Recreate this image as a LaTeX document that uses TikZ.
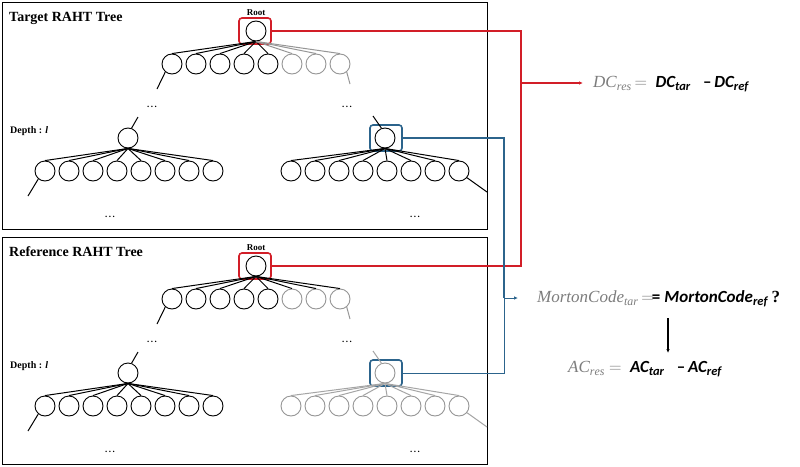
\documentclass[tikz,border=0pt]{standalone}
\usepackage{fontspec}
\setmainfont{Liberation Serif}
\newfontfamily\calib{Carlito}
\usetikzlibrary{arrows.meta}
\definecolor{redc}{RGB}{210,30,40}
\definecolor{bluec}{RGB}{44,100,140}
\definecolor{fgray}{RGB}{125,125,125}
\definecolor{ngray}{RGB}{150,150,150}
\definecolor{lgray}{RGB}{165,165,165}
\newcommand\gsub[2]{\textcolor{fgray}{$\mathit{#1}_{\mathit{#2}}$}}
\newcommand\bsub[2]{{\calib\bfseries\itshape #1\raisebox{-0.35ex}{\fontsize{12.5}{12.5}\selectfont #2}}}
\newcommand\mytree[6]{%
\begin{scope}[shift={(0,#2)}]
\node[frame, minimum width=485pt, minimum height=227pt, anchor=north west] (#1box) at (2,2) {};
\node[treetitle, anchor=base west] (#1title) at (9,21) {#3};
\node[rootlbl, anchor=base] (#1rootlbl) at (256,15) {Root};
\node[nd] (#1r) at (256,31) {};
\node[redbox] (#1rb) at (255,31) {};
\foreach \i/\s in {1/nd,2/nd,3/nd,4/nd,5/nd,6/gnd,7/gnd,8/gnd}{
  \node[\s] (#1c\i) at ({172+24*(\i-1)},64) {};
}
\foreach \i in {1,...,5} \draw[edge] (#1r.south) -- (#1c\i.north);
\foreach \i in {6,7,8} \draw[edge,#4] (#1r.south) -- (#1c\i.north);
\coordinate (#1ca) at (157,89);
\coordinate (#1cb) at (350,84);
\draw[edge] (#1c1.-130) -- (#1ca);
\draw[edge,ngray] (#1c8.-50) -- (#1cb);
\node[dots] (#1d1) at (152,107) {.\hspace{1.6pt}.\hspace{1.6pt}.};
\node[dots] (#1d2) at (347,107) {.\hspace{1.6pt}.\hspace{1.6pt}.};
\node[depthlbl, anchor=west] (#1depth) at (10,131) {Depth : \textit{l}};
% left subtree
\coordinate (#1La) at (138,117);
\node[nd] (#1L) at (128,138) {};
\draw[edge] (#1La) -- (#1L.70);
\foreach \i in {1,...,8}{
  \node[nd] (#1Lc\i) at ({45+24*(\i-1)},171) {};
  \draw[edge] (#1L.south) -- (#1Lc\i.north);
}
\coordinate (#1Lb) at (28,196);
\draw[edge] (#1Lc1.-130) -- (#1Lb);
% right subtree
\coordinate (#1Ra) at (373,116);
\node[#5] (#1R) at (385,138) {};
\node[bluebox] (#1Rb) at (386,138) {};
\draw[edge,#6] (#1Ra) -- (#1R.110);
\foreach \i in {1,...,8}{
  \node[#5] (#1Rc\i) at ({291+24*(\i-1)},171) {};
  \draw[edge,#6] (#1R.south) -- (#1Rc\i.north);
}
\coordinate (#1Rz) at (487,192);
\draw[edge,#6] (#1Rc8.-40) -- (#1Rz);
\node[dots] (#1d3) at (110,217) {.\hspace{1.6pt}.\hspace{1.6pt}.};
\node[dots] (#1d4) at (415,217) {.\hspace{1.6pt}.\hspace{1.6pt}.};
\end{scope}}
\begin{document}
\begin{tikzpicture}[x=1pt,y=-1pt,
  nd/.style={circle, draw, line width=0.9pt, minimum size=20pt, inner sep=0pt},
  gnd/.style={nd, draw=ngray},
  frame/.style={draw, line width=1.3pt, inner sep=0pt},
  treetitle/.style={font=\bfseries\fontsize{14}{16}\selectfont, inner sep=0pt},
  rootlbl/.style={font=\bfseries\fontsize{9}{10}\selectfont, inner sep=0pt},
  depthlbl/.style={font=\bfseries\fontsize{10}{12}\selectfont, inner sep=0pt},
  dots/.style={font=\bfseries\fontsize{9}{10}\selectfont, inner sep=0pt},
  redbox/.style={draw=redc, line width=1.6pt, rounded corners=3pt, minimum width=32pt, minimum height=26pt, inner sep=0pt},
  bluebox/.style={draw=bluec, line width=1.6pt, rounded corners=3pt, minimum width=32pt, minimum height=26pt, inner sep=0pt},
  edge/.style={line width=1pt},
  redthin/.style={draw=redc, line width=1.3pt},
  redthick/.style={draw=redc, line width=2.2pt},
  bluethin/.style={draw=bluec, line width=1pt},
  bluethick/.style={draw=bluec, line width=2pt},
  formula/.style={font=\fontsize{17}{19}\selectfont, inner sep=0pt, anchor=west},
  tip/.style={-{Latex[length=4pt,width=3.5pt]}}
]
\useasboundingbox (0,0) rectangle (800,466);
\fill[white] (0,0) rectangle (800,466);
\mytree{t}{0}{Target RAHT Tree}{ngray}{nd}{black}
\mytree{r}{235}{Reference RAHT Tree}{black}{gnd}{lgray}
% formulas
\node[formula] (dcf) at (593,84) {\gsub{DC}{res}\,\textcolor{fgray}{$=$}\ \ \bsub{DC}{tar}\ \ \ {\calib\bfseries –\,}\bsub{DC}{ref}};
\node[formula] (mcf) at (537,299) {\gsub{MortonCode}{tar}\,\textcolor{fgray}{$=$}\kern-2pt{\calib\bfseries =}\ \bsub{MortonCode}{ref}\ \textbf{?}};
\node[formula] (acf) at (568,369) {\gsub{AC}{res}\ \textcolor{fgray}{$=$}\ \ \bsub{AC}{tar}\ \ \ {\calib\bfseries –\,}\bsub{AC}{ref}};
% connectors
\coordinate (rj) at (521,105);
\coordinate (rs) at (521,83);
\draw[redthin] (trb.east) -| (rj);
\draw[redthick] (rrb.east) -| (rj);
\draw[redthin,tip,shorten >=10pt] (rs) -- (rs -| dcf.west);
\coordinate (bj) at (504,298);
\draw[bluethick] (tRb.east) -| (bj);
\draw[bluethin] (rRb.east) -| (bj);
\draw[bluethin,tip,shorten >=19pt] (bj) -- (bj -| mcf.west);
\coordinate (ma) at (668,318);
\coordinate (mb) at (668,353);
\draw[line width=1.2pt,tip] (ma) -- (mb);
\end{tikzpicture}
\end{document}
